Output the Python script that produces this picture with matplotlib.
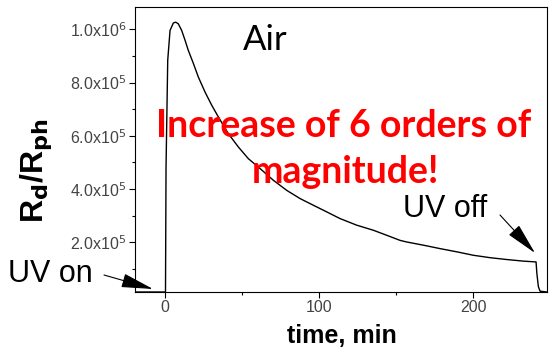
import matplotlib.pyplot as plt
from matplotlib.ticker import MultipleLocator, FixedLocator

# datos (tiempo en min, Rd/Rph)
time = [-19.5, 0.3, 0.65, 1.75, 3.25, 5.4, 6.95, 8.6, 10.8, 13.0, 15.1, 18.4,
        21.6, 26.0, 30.3, 34.6, 41.1, 47.6, 54.1, 61.7, 70.3, 79.0, 87.7, 96.3,
        105.0, 113.6, 124.5, 135.3, 144.0, 152.6, 156.9, 167.7, 178.6, 189.4,
        200.2, 211.0, 221.9, 232.7, 240.9, 241.4, 242.4, 243.5, 248]
ratio = [1.3e4, 1.3e4, 4.82e5, 8.84e5, 9.96e5, 1.024e6, 1.027e6, 1.021e6, 9.96e5,
         9.59e5, 9.21e5, 8.72e5, 8.21e5, 7.64e5, 7.15e5, 6.71e5, 6.08e5, 5.58e5,
         5.14e5, 4.77e5, 4.33e5, 3.95e5, 3.64e5, 3.39e5, 3.14e5, 2.89e5, 2.64e5,
         2.45e5, 2.26e5, 2.07e5, 2.01e5, 1.89e5, 1.76e5, 1.64e5, 1.51e5, 1.42e5,
         1.35e5, 1.29e5, 1.26e5, 8.4e4, 3.3e4, 1.6e4, 1.3e4]

y_ticks = [2e5, 4e5, 6e5, 8e5, 1e6]
y_labels = ["2.0x10$^5$", "4.0x10$^5$", "6.0x10$^5$", "8.0x10$^5$", "1.0x10$^6$"]
x_ticks = [0, 100, 200]

fig = plt.figure(figsize=(5.5, 3.48), dpi=100)
ax = fig.add_axes([135 / 550, 1 - 292 / 348, 412 / 550, 285 / 348])

ax.plot(time, ratio, color="black", lw=1.0)
ax.set_xlim(-19.5, 248)
ax.set_ylim(1.3e4, 1.084e6)

ax.set_xticks(x_ticks)
ax.xaxis.set_minor_locator(MultipleLocator(50))
ax.set_yticks(y_ticks)
ax.set_yticklabels(y_labels)
ax.yaxis.set_minor_locator(FixedLocator([1e5, 3e5, 5e5, 7e5, 9e5]))
ax.tick_params(axis="both", which="major", length=4, width=0.8, labelsize=11.5,
               labelcolor="#444444", direction="out", pad=2)
ax.tick_params(axis="both", which="minor", length=2.5, width=0.8, direction="out")
for lab in ax.get_xticklabels() + ax.get_yticklabels():
    lab.set_fontfamily("Liberation Sans")
for s in ax.spines.values():
    s.set_linewidth(0.8)

# textos en pixeles de la figura (origen abajo a la izquierda)
H = 348
fig.text(342, H - 343, "time, min", transform=None, fontsize=18, fontweight="bold",
         family="Liberation Sans", ha="center", va="baseline")
fig.text(36, H - 171, "R$_\\mathbf{d}$/R$_\\mathbf{ph}$", transform=None, rotation=90,
         fontsize=23, fontweight="bold", family="Liberation Sans",
         ha="center", va="center")

fig.text(265, H - 50, "Air", transform=None, fontsize=25, family="Lato",
         ha="center", va="baseline")
fig.text(344, H - 137, "Increase of 6 orders of", transform=None, color="red",
         fontsize=27, fontweight="bold", family="Lato", ha="center", va="baseline")
fig.text(345, H - 183, "magnitude!", transform=None, color="red",
         fontsize=27, fontweight="bold", family="Lato", ha="center", va="baseline")

fig.text(8, H - 282, "UV on", transform=None, fontsize=22, family="Liberation Sans",
         ha="left", va="baseline")
fig.text(403, H - 217, "UV off", transform=None, fontsize=22, family="Liberation Sans",
         ha="left", va="baseline")

flecha = dict(arrowstyle="-|>,head_length=1.0,head_width=0.22", color="black",
              lw=0.8, mutation_scale=20, shrinkA=0, shrinkB=0)
ax.annotate("", xy=(153, H - 289), xycoords="figure pixels",
            xytext=(104, H - 275), textcoords="figure pixels", arrowprops=flecha)
ax.annotate("", xy=(535, H - 253), xycoords="figure pixels",
            xytext=(500, H - 215), textcoords="figure pixels", arrowprops=flecha)

fig.savefig("out.png", dpi=100)
